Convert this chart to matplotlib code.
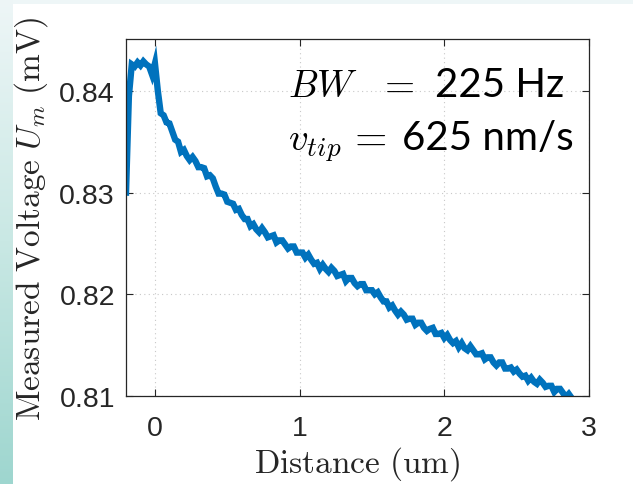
import numpy as np
import matplotlib
matplotlib.use("Agg")
import matplotlib.pyplot as plt
from matplotlib.colors import LinearSegmentedColormap

plt.rcParams['mathtext.fontset'] = 'cm'
plt.rcParams['font.family'] = ['Liberation Sans', 'DejaVu Sans']

# ---- data ----
distance_um = np.linspace(-0.20, 2.88, 155)
voltage_mV = [
    0.8300, 0.8395, 0.8426, 0.8424, 0.8428, 0.8425, 0.8429, 0.8426, 0.8424, 0.8416,
    0.8427, 0.8400, 0.8378, 0.8376, 0.8369, 0.8368, 0.8360, 0.8352, 0.8350, 0.8340,
    0.8342, 0.8336, 0.8332, 0.8335, 0.8331, 0.8325, 0.8325, 0.8324, 0.8316, 0.8317,
    0.8314, 0.8306, 0.8299, 0.8299, 0.8298, 0.8291, 0.8290, 0.8289, 0.8283, 0.8284,
    0.8278, 0.8274, 0.8274, 0.8267, 0.8269, 0.8264, 0.8261, 0.8265, 0.8261, 0.8256,
    0.8257, 0.8258, 0.8251, 0.8253, 0.8253, 0.8249, 0.8245, 0.8247, 0.8247, 0.8241,
    0.8241, 0.8241, 0.8236, 0.8239, 0.8234, 0.8230, 0.8231, 0.8225, 0.8229, 0.8225,
    0.8222, 0.8226, 0.8223, 0.8218, 0.8219, 0.8220, 0.8213, 0.8216, 0.8216, 0.8211,
    0.8208, 0.8210, 0.8210, 0.8204, 0.8204, 0.8204, 0.8200, 0.8202, 0.8197, 0.8193,
    0.8193, 0.8187, 0.8189, 0.8184, 0.8180, 0.8183, 0.8180, 0.8175, 0.8176, 0.8176,
    0.8170, 0.8172, 0.8172, 0.8167, 0.8164, 0.8166, 0.8167, 0.8161, 0.8161, 0.8162,
    0.8157, 0.8160, 0.8155, 0.8152, 0.8154, 0.8148, 0.8152, 0.8147, 0.8145, 0.8149,
    0.8145, 0.8141, 0.8141, 0.8142, 0.8136, 0.8138, 0.8138, 0.8133, 0.8130, 0.8133,
    0.8133, 0.8127, 0.8127, 0.8128, 0.8124, 0.8126, 0.8122, 0.8119, 0.8120, 0.8115,
    0.8118, 0.8114, 0.8112, 0.8116, 0.8113, 0.8109, 0.8110, 0.8110, 0.8104, 0.8107,
    0.8107, 0.8103, 0.8099, 0.8102, 0.8098,
]
x_ticks = [0, 1, 2, 3]
y_ticks = [0.81, 0.82, 0.83, 0.84]
y_ticklabels = ['0.81', '0.82', '0.83', '0.84']

W, H = 633, 485
fig = plt.figure(figsize=(W / 100, H / 100), dpi=100)
fig.patch.set_facecolor('white')

# decorative slide background strips
top = fig.add_axes([0, 1 - 5 / H, 1, 5 / H])
top.set_axis_off()
top.add_patch(plt.Rectangle((0, 0), 1, 1, color='#eef6f7', transform=top.transAxes))
left = fig.add_axes([0, 0, 12 / W, 1])
left.set_axis_off()
cmap = LinearSegmentedColormap.from_list('bg', ['#eef6f7', '#c9e8e4', '#9ed6cf'])
left.imshow(np.linspace(0, 1, 256).reshape(-1, 1), aspect='auto', cmap=cmap,
            extent=[0, 1, 0, 1], origin='upper')

ax = fig.add_axes([126 / W, 1 - 397 / H, (589 - 126) / W, (397 - 40) / H])
ax.plot(distance_um, voltage_mV, color='#0072bd', lw=4.6, solid_joinstyle='miter')
ax.set_xlim(-0.2, 3)
ax.set_ylim(0.81, 0.8451)
ax.set_xticks(x_ticks)
ax.set_yticks(y_ticks)
ax.set_yticklabels(y_ticklabels)
ax.tick_params(direction='in', length=5, width=0.8, colors='#262626',
               labelsize=20.5, top=True, right=True, pad=8)
ax.tick_params(axis='x', pad=14)
for s in ax.spines.values():
    s.set_color('#262626')
    s.set_linewidth(0.9)
ax.grid(True, linestyle=(0, (1, 3)), color='#c8c8c8', linewidth=0.8)
ax.set_axisbelow(True)

ax.set_xlabel(r'$\mathrm{Distance\ (um)}$', fontsize=24, color='#262626', labelpad=2)
ax.set_ylabel(r'$\mathrm{Measured\ Voltage\ }U_m\mathrm{\ (mV)}$', fontsize=24,
              color='#262626', labelpad=7)

sans = ['Lato', 'DejaVu Sans']
kw = dict(transform=ax.transAxes, ha='left', va='baseline', color='black')
ax.text(0.350, 0.840, r'$BW$', fontsize=27, **kw)
ax.text(0.545, 0.840, r'$=$', fontsize=28, **kw)
ax.text(0.667, 0.840, '225 Hz', fontsize=29, family=sans, **kw)
ax.text(0.350, 0.692, r'$v_{tip}$', fontsize=28, **kw)
ax.text(0.477, 0.692, r'$=$', fontsize=30, **kw)
ax.text(0.596, 0.692, '625 nm/s', fontsize=29, family=sans, **kw)

fig.savefig('out.png', dpi=100, facecolor=fig.get_facecolor())
